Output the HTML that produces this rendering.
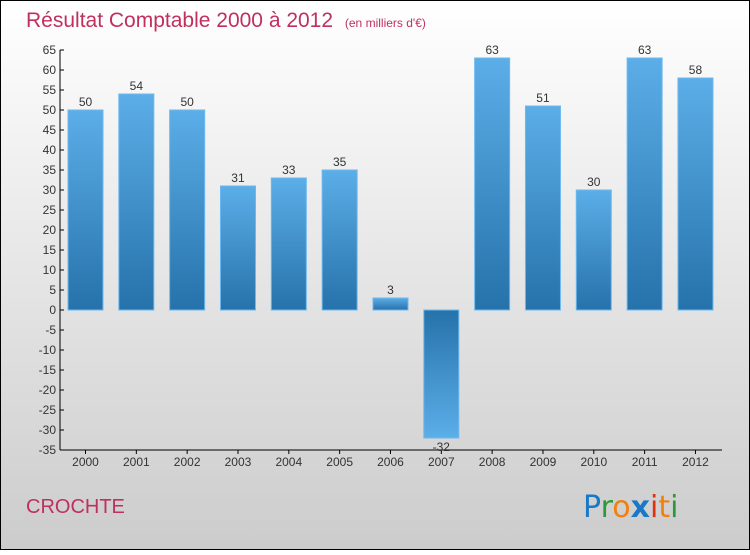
<!DOCTYPE html>
<html><head><meta charset="utf-8"><style>
html,body{margin:0;padding:0}
body{width:750px;height:550px;overflow:hidden;font-family:"Liberation Sans",sans-serif}
</style></head><body>
<svg width="750" height="550" xmlns="http://www.w3.org/2000/svg">
<defs>
<linearGradient id="bg" x1="0" y1="0" x2="0" y2="1"><stop offset="0" stop-color="#ffffff"/><stop offset="1" stop-color="#cccccc"/></linearGradient>
<linearGradient id="pos" x1="0" y1="0" x2="0" y2="1"><stop offset="0" stop-color="#5caee8"/><stop offset="1" stop-color="#2672ab"/></linearGradient>
<linearGradient id="neg" x1="0" y1="0" x2="0" y2="1"><stop offset="0" stop-color="#2672ab"/><stop offset="1" stop-color="#5caee8"/></linearGradient>
</defs>
<rect x="0.5" y="0.5" width="749" height="549" fill="url(#bg)" stroke="#000"/>
<text x="26" y="27" font-size="21" fill="#c0305e">Résultat Comptable 2000 à 2012 <tspan font-size="12" dx="6">(en milliers d'€)</tspan></text>
<g id="axes"></g>
<g id="bars"></g>
<text x="26" y="513" font-size="20" fill="#c0305e">CROCHTE</text>
<text x="583" y="517" font-size="30" font-family="DejaVu Sans, sans-serif"><tspan fill="#1a78c8">P</tspan><tspan fill="#2a9a3a">r</tspan><tspan fill="#f08010">o</tspan><tspan fill="#1a78c8" font-weight="bold">x</tspan><tspan fill="#e03010">i</tspan><tspan fill="#f08010">t</tspan><tspan fill="#2a9a3a">i</tspan></text>
</svg>
<script>
const years=["2000","2001","2002","2003","2004","2005","2006","2007","2008","2009","2010","2011","2012"];
const values=[50,54,50,31,33,35,3,-32,63,51,30,63,58];
const ticks=[65,60,55,50,45,40,35,30,25,20,15,10,5,0,-5,-10,-15,-20,-25,-30,-35];
const NS="http://www.w3.org/2000/svg";
const y=v=>310-(v*4);
const x=i=>85.5+i*50.83;
function mk(t,a,p){const e=document.createElementNS(NS,t);for(const k in a)e.setAttribute(k,a[k]);p.appendChild(e);return e;}
const ax=document.getElementById('axes'),bg=document.getElementById('bars');
const yl=mk('line',{x1:60,y1:50,x2:60,y2:450,stroke:'#000'},ax);


const xl=mk('line',{x1:60,y1:450,x2:722,y2:450,stroke:'#000'},ax);


ticks.forEach(t=>{
 mk('line',{x1:60,y1:y(t),x2:64,y2:y(t),stroke:'#000'},ax);
 const tx=mk('text',{x:56,y:y(t)+4,'font-size':12,'text-anchor':'end',fill:'#333'},ax);tx.textContent=t;
 
 
});
years.forEach((yr,i)=>{
 mk('line',{x1:x(i),y1:450,x2:x(i),y2:454,stroke:'#000'},ax);
 const tx=mk('text',{x:x(i),y:466,'font-size':12,'text-anchor':'middle',fill:'#333'},ax);tx.textContent=yr;
 
 
 const v=values[i];
 const top=Math.min(y(v),y(0)),h=Math.abs(y(v)-y(0));
 const r=mk('rect',{x:x(i)-17.5,y:top,width:35,height:h,fill:v>=0?'url(#pos)':'url(#neg)',stroke:'#6cb8ee','stroke-width':1},bg);
 
 
 const lb=mk('text',{x:x(i),y:v>=0?y(v)-4:y(v)+13,'font-size':12,'text-anchor':'middle',fill:'#333'},bg);lb.textContent=v;
 
 
});
</script>
</body></html>
